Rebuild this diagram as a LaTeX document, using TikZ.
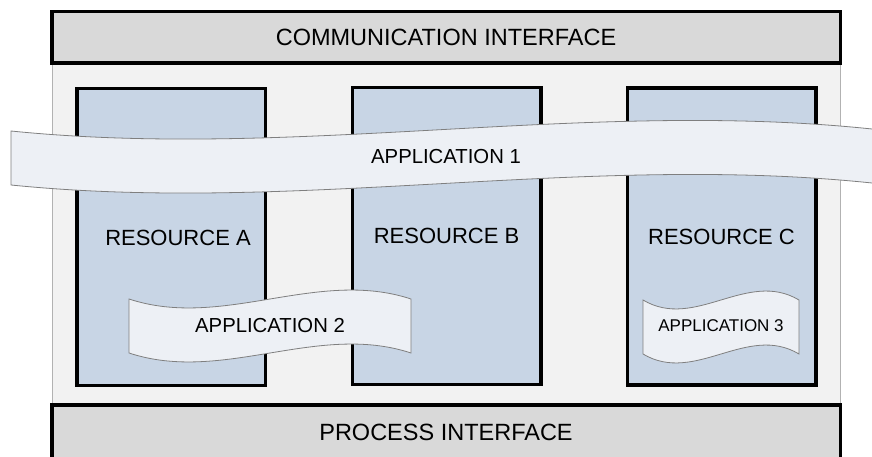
\documentclass[tikz,border=0pt]{standalone}
\usepackage{fontspec}
\setmainfont{Liberation Sans}
\usepackage{tikz}

\definecolor{bargray}{HTML}{D9D9D9}
\definecolor{backgray}{HTML}{F2F2F2}
\definecolor{resblue}{HTML}{C8D5E5}
\definecolor{appfill}{HTML}{EDF0F5}
\definecolor{appline}{HTML}{7F7F7F}

\begin{document}
\begin{tikzpicture}[x=1pt, y=-1pt, line join=miter,
    bar/.style={draw=black, line width=3.5pt, fill=bargray, minimum width=788.5pt, font=\fontsize{23.5}{28}\selectfont},
    resource/.style={draw=black, line width=3.5pt, fill=resblue, minimum width=188.5pt, minimum height=296.5pt, font=\fontsize{22}{26}\selectfont},
    tape/.style={draw=appline, line width=0.8pt, fill=appfill},
    applabel/.style={font=\fontsize{20.3}{24}\selectfont}]
    \useasboundingbox (0,0) rectangle (872,457);
    \clip (0,0) rectangle (872,457);
    % device frame
    \draw [draw=gray!60, line width=0.8pt, fill=backgray] (52,60) rectangle (840,410);
    \node[bar, minimum height=51.5pt] (comm) at (446,37.5) {COMMUNICATION INTERFACE};
    \node[bar, minimum height=55pt] (proc) at (446,432.5) {PROCESS INTERFACE};
    % resources
    \node[resource, label={[font=\fontsize{22}{26}\selectfont, xshift=7pt, yshift=-1pt]center:RESOURCE A}] (resA) at (171,237) {};
    \node[resource] (resB) at (446.5,236) {RESOURCE B};
    \node[resource] (resC) at (721.5,236.5) {RESOURCE C};
    % applications
    \draw [tape] (11,131) .. controls (298,160) and (585,99) .. (872,129) -- (890,129.5)
        -- (890,183.5) -- (872,183) .. controls (585,153) and (298,214) .. (11,185) -- cycle;
    \draw [tape] (129,299) .. controls (223,330) and (317,268) .. (411,299) -- (411,353)
        .. controls (317,322) and (223,384) .. (129,353) -- cycle;
    \draw [tape] (643,300) .. controls (695,331) and (747,269) .. (799,300) -- (799,354)
        .. controls (747,323) and (695,385) .. (643,354) -- cycle;
    \node[applabel] (app1) at (446,157) {APPLICATION 1};
    \node[applabel] (app2) at (270,326) {APPLICATION 2};
    \node[applabel, font=\fontsize{17}{20}\selectfont] (app3) at (721,326) {APPLICATION 3};
\end{tikzpicture}
\end{document}
